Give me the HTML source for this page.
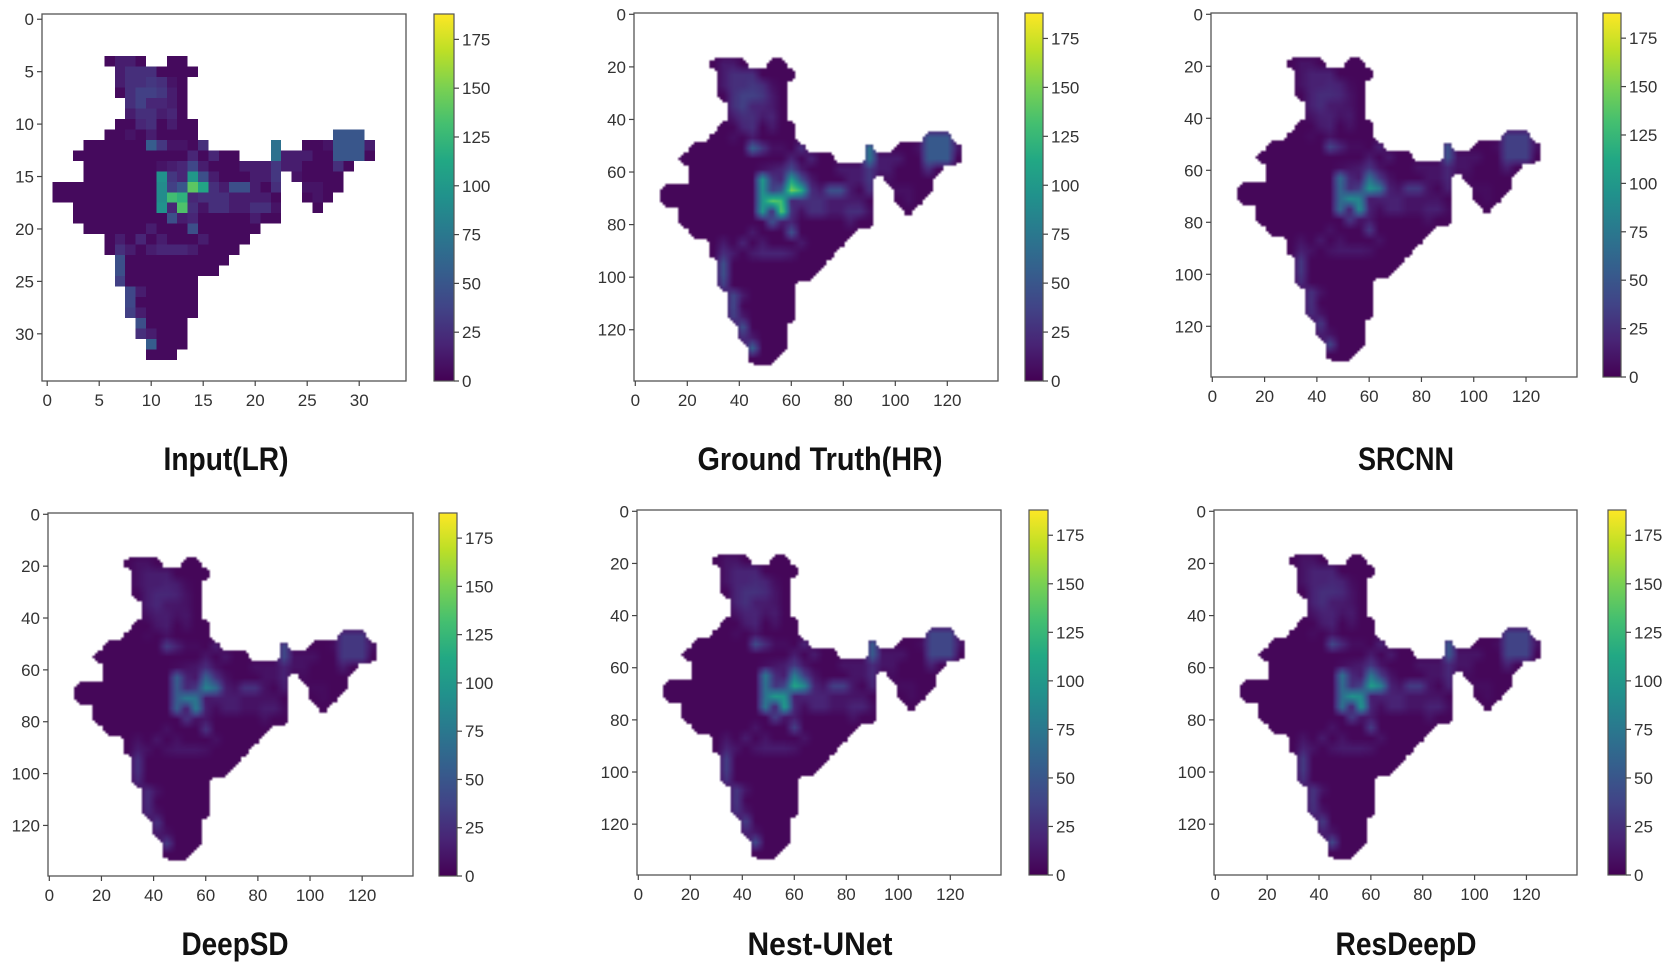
<!DOCTYPE html>
<html><head><meta charset="utf-8">
<style>
html,body{margin:0;padding:0;background:#fff;}
body{width:1674px;height:965px;position:relative;overflow:hidden;font-family:"Liberation Sans","DejaVu Sans",sans-serif;}
canvas{position:absolute;image-rendering:auto;}
svg{position:absolute;left:0;top:0;}
</style></head>
<body>
<svg id="fig" width="1674" height="965"></svg>
<script>
// ---- Data: low-resolution rainfall grid (35x35); char -> parseInt(ch,36)*5 mm, '.' = no data
const lrRows = [
"...................................",
"...................................",
"...................................",
"...................................",
"......1331..11.....................",
".......35551111....................",
".......3556521.....................",
".......1577631.....................",
"........574431.....................",
"........355341.....................",
".......11451311....................",
"......112131111.............aaa....",
"....111111b62215......e..112aaa3...",
"...1111111111141411...e33311aaa1...",
"....11111112348311133363311151.....",
"....1111111j64k93111336.21111......",
".1111111111i7asm5399315..2211......",
".1111111111iqo455533331..121.......",
"...11111111j4r525533552...1........",
"...11111111193411111311............",
"....11111131119111111..............",
"......13141311131111...............",
"......1531344431111................",
".......91111111111.................",
".......9111111111..................",
".......71111111....................",
"........8311111....................",
"........8111111....................",
"........7311111....................",
".........91111.....................",
".........53111.....................",
"..........b111.....................",
"..........111......................",
"...................................",
"..................................."
];
// per-model intensity of the rainfall anomaly relative to the input field
const panelNames = ["Input(LR)","Ground Truth(HR)","SRCNN","DeepSD","Nest-UNet","ResDeepD"];
const panelGain = [1.0, 1.1, 0.7, 0.6, 0.8, 0.75];
const lrTicks = [0,5,10,15,20,25,30];
const hrTicks = [0,20,40,60,80,100,120];
const cbTicks = [0,25,50,75,100,125,150,175];
const vmax = 188;

const layout = [
 {box:[42,14,406,381],cb:[434,14,454,381],n:35,tx:226,ty:458,tw:125},
 {box:[634,13,998,381],cb:[1025,13,1043,381],n:140,tx:820,ty:458,tw:245},
 {box:[1211,13,1577,377],cb:[1603,13,1621,377],n:140,tx:1406,ty:458,tw:96},
 {box:[48,513,413,876],cb:[439,513,457,876],n:140,tx:235,ty:943,tw:107},
 {box:[637,510,1001,875],cb:[1029,510,1048,875],n:140,tx:820,ty:943,tw:145},
 {box:[1214,510,1577,875],cb:[1608,510,1626,875],n:140,tx:1406,ty:943,tw:141}
];
const vir=[[68,1,84],[72,36,117],[65,68,135],[53,95,141],[42,120,142],[33,145,140],[34,168,132],[68,191,112],[122,209,81],[189,223,38],[253,231,37]];
function cmap(v){let t=Math.max(0,Math.min(1,v/vmax))*10;let i=Math.min(9,Math.floor(t));let f=t-i;const a=vir[i],b=vir[i+1];
 return [a[0]+(b[0]-a[0])*f,a[1]+(b[1]-a[1])*f,a[2]+(b[2]-a[2])*f];}
function lrVal(r,c){if(r<0||c<0||r>34||c>34)return null;const ch=lrRows[r][c];return ch==='.'?null:parseInt(ch,36)*5;}
const NS="http://www.w3.org/2000/svg";
const svg=document.getElementById('fig');
function el(tag,attrs,parent){const e=document.createElementNS(NS,tag);for(const k in attrs)e.setAttribute(k,attrs[k]);(parent||svg).appendChild(e);return e;}

const defs=el('defs',{});
const grad=el('linearGradient',{id:'vir',x1:0,y1:1,x2:0,y2:0},defs);
vir.forEach((c,i)=>{el('stop',{offset:(i/10),'stop-color':`rgb(${c})`},grad);});

function bil(lx,ly,fn){
 const x0=Math.floor(lx),y0=Math.floor(ly),fx=lx-x0,fy=ly-y0;
 return fn(y0,x0)*(1-fx)*(1-fy)+fn(y0,x0+1)*fx*(1-fy)+fn(y0+1,x0)*(1-fx)*fy+fn(y0+1,x0+1)*fx*fy;
}
const valFn=(r,c)=>{const v=lrVal(r,c);return v===null?5:v;};
const maskFn=(r,c)=>lrVal(r,c)===null?0:1;

layout.forEach((L,p)=>{
 const [x0,y0,x1,y1]=L.box, n=L.n, W=x1-x0, H=y1-y0;
 const xs=v=>x0+(v+0.5)/n*W, ys=v=>y0+(v+0.5)/n*H;
 const cv=document.createElement('canvas');
 
 
 cv.width=n;cv.height=n;
 cv.style.left=x0+'px';cv.style.top=y0+'px';cv.style.width=W+'px';cv.style.height=H+'px';
 if(n===35)cv.style.imageRendering='pixelated';
 const ctx=cv.getContext('2d');const img=ctx.createImageData(n,n);
 for(let r=0;r<n;r++)for(let c=0;c<n;c++){
  let v;
  if(n===35){v=lrVal(r,c);}
  else{
   const ly=(r-15)/4+3.5, lx=(c-7.6)/3.75+0.5;
   const m=bil(lx-0.5,ly-0.5,maskFn);
   if(m<0.5){v=null;}else{const b=bil(lx-0.5,ly-0.5,valFn);v=3+(b-5)*panelGain[p];}
  }
  const k=(r*n+c)*4;
  if(v===null){img.data[k+3]=0;}else{const col=cmap(v);img.data[k]=col[0];img.data[k+1]=col[1];img.data[k+2]=col[2];img.data[k+3]=255;}
 }
 ctx.putImageData(img,0,0);
 document.body.appendChild(cv);

 const g=el('g',{});
 
 
 const frame=el('rect',{x:x0,y:y0,width:W,height:H,fill:'none',stroke:'#555','stroke-width':1.3},g);
 
 
 const ticks=n===35?lrTicks:hrTicks;
 ticks.forEach(t=>{
  el('line',{x1:xs(t),x2:xs(t),y1:y1,y2:y1+5,stroke:'#444','stroke-width':1.2},g);
  const tx=el('text',{x:xs(t),y:y1+25,'text-anchor':'middle','font-size':17,fill:'#333'},g);
  tx.textContent=t;
  
  
  el('line',{x1:x0-5,x2:x0,y1:ys(t),y2:ys(t),stroke:'#444','stroke-width':1.2},g);
  const ty=el('text',{x:x0-8,y:ys(t)+6,'text-anchor':'end','font-size':17,fill:'#333'},g);
  ty.textContent=t;
  
  
 });
 const [cx0,cy0,cx1,cy1]=L.cb;
 const cb=el('rect',{x:cx0,y:cy0,width:cx1-cx0,height:cy1-cy0,fill:'url(#vir)',stroke:'#555','stroke-width':1.2},g);
 
 
 cbTicks.forEach(t=>{
  const y=cy1-(t/vmax)*(cy1-cy0);
  el('line',{x1:cx1,x2:cx1+5,y1:y,y2:y,stroke:'#444','stroke-width':1.2},g);
  const tt=el('text',{x:cx1+8,y:y+6,'font-size':17,fill:'#333'},g);
  tt.textContent=t;
  
  
 });
 const title=el('text',{x:L.tx,y:L.ty+12,'text-anchor':'middle','font-size':32,'font-weight':'bold',fill:'#111',textLength:L.tw,lengthAdjust:'spacingAndGlyphs'},g);
 title.textContent=panelNames[p];
 
 
});
</script>
</body></html>
